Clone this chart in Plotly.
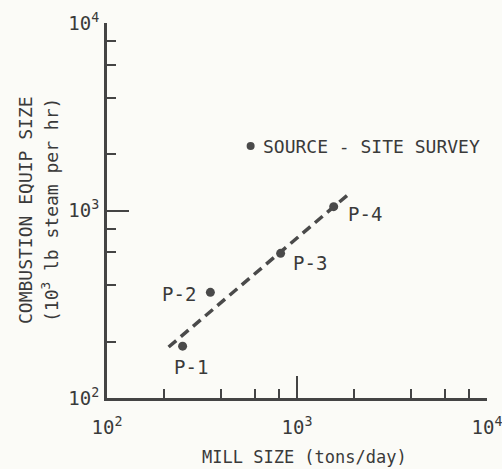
import math
import plotly.graph_objects as go

# Data
mill_size = [250, 350, 820, 1560]          # tons/day
equip_size = [189, 366, 591, 1048]          # 10^3 lb steam per hr
point_labels = ["P-1", "P-2", "P-3", "P-4"]
fit_x = [211, 1910]
fit_y = [187, 1245]
legend_x = [570]
legend_y = [2208]
legend_text = "SOURCE - SITE SURVEY"
major_vals = [100, 1000, 10000]
major_text = ["10<sup>2</sup>", "10<sup>3</sup>", "10<sup>4</sup>"]
minor_vals = [m * d for d in (100, 1000) for m in (2, 4, 6, 8)]
x_title = "MILL SIZE (tons/day)"
y_title_1 = "COMBUSTION EQUIP SIZE"
y_title_2 = "(10<sup>3</sup> lb steam per hr)"

INK = "#3a3a3a"
MARK = "#4a4a4a"
FONT = "DejaVu Sans Mono, monospace"

fig = go.Figure()
fig.add_trace(go.Scatter(x=fit_x, y=fit_y, mode="lines",
                         line=dict(color=MARK, width=3.5, dash="10px,6px"),
                         hoverinfo="skip", showlegend=False))
fig.add_trace(go.Scatter(x=mill_size, y=equip_size, mode="markers",
                         marker=dict(color=MARK, size=9), showlegend=False))
fig.add_trace(go.Scatter(x=legend_x, y=legend_y, mode="markers",
                         marker=dict(color=MARK, size=8), showlegend=False))
fig.add_annotation(x=math.log10(legend_x[0]), y=math.log10(legend_y[0]),
                   xref="x", yref="y", text=legend_text, showarrow=False,
                   xanchor="left", yanchor="middle", xshift=10, yshift=0,
                   font=dict(size=18, color=INK, family=FONT))

# label placement (anchor, shifts in px)
label_place = [("center", "middle", 8, -21), ("right", "middle", -12, -2),
               ("left", "middle", 10, -10), ("left", "middle", 12, -7)]
for x, y, t, (xa, ya, dx, dy) in zip(mill_size, equip_size, point_labels, label_place):
    fig.add_annotation(x=math.log10(x), y=math.log10(y), xref="x", yref="y",
                       text=t, showarrow=False, xanchor=xa, yanchor=ya,
                       xshift=dx, yshift=dy,
                       font=dict(size=19, color=INK, family=FONT))

# axis titles
fig.add_annotation(x=(304 - 107) / 380, y=(398 - 457) / 375, xref="paper", yref="paper",
                   text=x_title, showarrow=False, xanchor="center", yanchor="middle",
                   font=dict(size=17, color=INK, family=FONT))
fig.add_annotation(x=(25 - 107) / 380, y=(398 - 210) / 375, xref="paper", yref="paper",
                   text=y_title_1, showarrow=False, textangle=-90,
                   xanchor="center", yanchor="middle",
                   font=dict(size=18, color=INK, family=FONT))
fig.add_annotation(x=(50 - 107) / 380, y=(398 - 210) / 375, xref="paper", yref="paper",
                   text=y_title_2, showarrow=False, textangle=-90,
                   xanchor="center", yanchor="middle",
                   font=dict(size=18, color=INK, family=FONT))

axis_common = dict(type="log", range=[2, 4], showgrid=False, zeroline=False,
                   showline=True, linecolor="#444444", linewidth=3,
                   ticks="inside", ticklen=22, tickwidth=2, tickcolor="#444444",
                   tickmode="array", tickvals=major_vals, ticktext=major_text,
                   tickfont=dict(size=19, color=INK, family=FONT),
                   minor=dict(tickmode="array", tickvals=minor_vals, ticks="inside",
                              ticklen=9, tickwidth=1.5, tickcolor="#444444"),
                   mirror=False, automargin=False, ticklabeloverflow="allow")

fig.update_layout(
    width=502, height=469,
    margin=dict(l=107, r=15, t=23, b=71, autoexpand=False),
    paper_bgcolor="#fbfbf7", plot_bgcolor="#fbfbf7",
    xaxis=dict(axis_common, ticklabelstandoff=10),
    yaxis=dict(axis_common, ticklabelstandoff=1),
    showlegend=False,
)

fig.write_html("out.html")
